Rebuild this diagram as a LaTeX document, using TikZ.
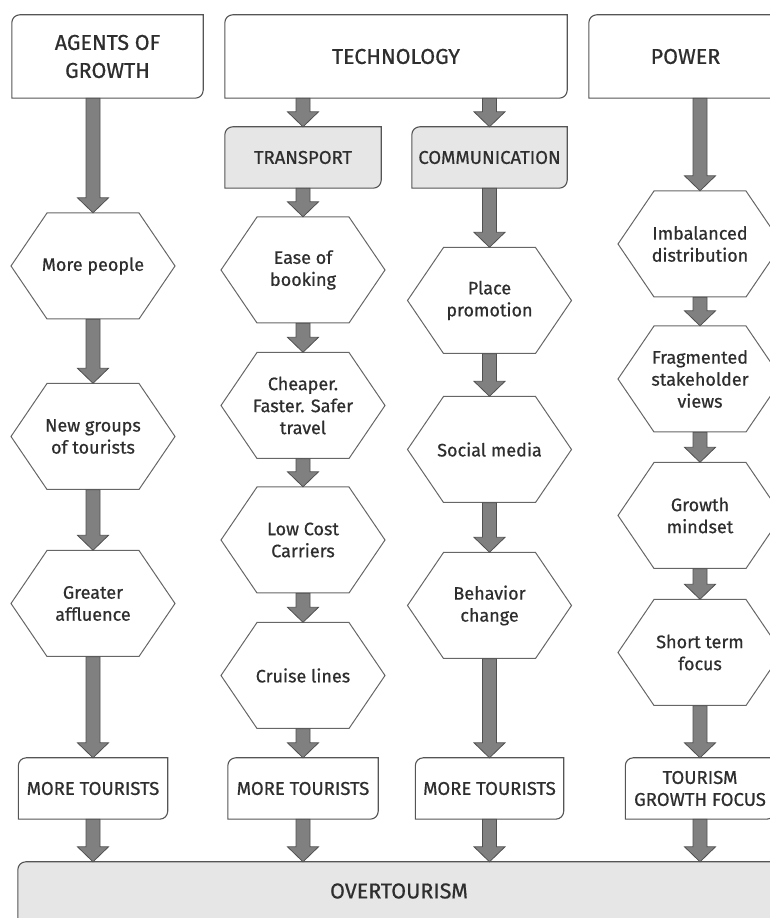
\documentclass[tikz,border=0pt]{standalone}
\usepackage{fontspec}
\setmainfont{Fira Sans}[UprightFeatures={FakeBold=0.7}]
\usetikzlibrary{calc,backgrounds}

\definecolor{textgray}{HTML}{2E2E2E}
\definecolor{linegray}{HTML}{555555}
\definecolor{hexgray}{HTML}{666666}
\definecolor{arrowgray}{HTML}{808080}
\definecolor{arrowline}{HTML}{505050}
\definecolor{shade}{HTML}{E6E6E6}

\tikzset{
  boxtext/.style={rectangle, inner sep=0pt, align=center, text=textgray, font=\fontsize{18.5}{22}\selectfont},
  titletext/.style={boxtext, minimum height=83pt, font=\fontsize{21.5}{28}\selectfont},
  lowtext/.style={boxtext, minimum height=61pt},
  hextext/.style={boxtext, minimum width=164pt, minimum height=106pt, font=\fontsize{18}{22}\selectfont},
  boxline/.style={draw=linegray, line width=1.1pt},
  hexline/.style={draw=hexgray, line width=1pt},
  flowline/.style={draw=arrowline, fill=arrowgray, line width=0.8pt, line join=miter},
}

% box with two rounded corners (top left, bottom right)
\newcommand{\cornerbox}[2]{\draw[boxline, fill=#1] (#2.south west) -- ([yshift=-8pt]#2.north west) arc[start angle=180, end angle=90, radius=8pt] -- (#2.north east) -- ([yshift=8pt]#2.south east) arc[start angle=0, end angle=-90, radius=8pt] -- cycle;}
% hexagon round a node
\newcommand{\hexnode}[1]{\draw[hexline] ([shift={(-46pt,53pt)}]#1.center) -- ([shift={(46pt,53pt)}]#1.center) -- ([shift={(82pt,0pt)}]#1.center) -- ([shift={(46pt,-53pt)}]#1.center) -- ([shift={(-46pt,-53pt)}]#1.center) -- ([shift={(-82pt,0pt)}]#1.center) -- cycle;}
% block arrow, x taken from the end point
\newcommand{\flow}[2]{\draw[flowline] let \p1=(#1), \p2=(#2) in (\x2-7pt,\y1) -- (\x2-7pt,\y2+15pt) -- (\x2-15.5pt,\y2+15pt) -- (\x2,\y2) -- (\x2+15.5pt,\y2+15pt) -- (\x2+7pt,\y2+15pt) -- (\x2+7pt,\y1) -- cycle;}

\begin{document}
\begin{tikzpicture}[x=1pt, y=1pt]
\useasboundingbox (0,0) rectangle (770,918);
\clip (0,0) rectangle (770,918);

\node[titletext, name=agents, minimum width=191pt] at (107.5,861.5) {AGENTS OF\\GROWTH};
\node[titletext, name=tech, minimum width=342pt] at (396,861.5) {TECHNOLOGY};
\node[titletext, name=power, minimum width=193pt] at (685.5,861.5) {POWER};

\node[lowtext, name=transport, minimum width=156pt] at (303,760.5) {TRANSPORT};
\node[lowtext, name=comm, minimum width=155pt] at (489.5,760.5) {COMMUNICATION};

% agents of growth
\node[hextext, name=people] at (93,652) {More people};
\node[hextext, name=groups] at (93,481.5) {New groups\\of tourists};
\node[hextext, name=affluence] at (93,314.5) {Greater\\affluence};

% transport
\node[hextext, name=booking] at (303,648) {Ease of\\booking};
\node[hextext, name=cheaper] at (303,512.5) {Cheaper.\\Faster. Safer\\travel};
\node[hextext, name=carriers] at (303,378) {Low Cost\\Carriers};
\node[hextext, name=cruise] at (303,242.5) {Cruise lines};

% communication
\node[hextext, name=promo] at (489.5,617.5) {Place\\promotion};
\node[hextext, name=social] at (489.5,468.5) {Social media};
\node[hextext, name=behavior] at (489.5,312.5) {Behavior\\change};

% power
\node[hextext, name=imbalance] at (700,674) {Imbalanced\\distribution};
\node[hextext, name=views] at (700,539) {Fragmented\\stakeholder\\views};
\node[hextext, name=mindset] at (700,402.5) {Growth\\mindset};
\node[hextext, name=shortterm] at (700,265.5) {Short term\\focus};

\node[lowtext, name=more1, minimum width=149pt] at (93,129.5) {MORE TOURISTS};
\node[lowtext, name=more2, minimum width=150pt] at (303,129.5) {MORE TOURISTS};
\node[lowtext, name=more3, minimum width=148pt] at (489.5,129.5) {MORE TOURISTS};
\node[lowtext, name=focus, minimum width=149pt] at (700,129.5) {TOURISM\\GROWTH FOCUS};

\node[boxtext, name=over, minimum width=762pt, minimum height=58pt, font=\fontsize{21.5}{26}\selectfont] at (399,27) {OVERTOURISM};

\begin{pgfonlayer}{background}
\clip (0,0) rectangle (770,918);
\foreach \b in {agents, tech, power, more1, more2, more3, focus} \cornerbox{white}{\b};
\foreach \b in {transport, comm, over} \cornerbox{shade}{\b};
\end{pgfonlayer}

\foreach \h in {people, groups, affluence, booking, cheaper, carriers, cruise, promo, social, behavior, imbalance, views, mindset, shortterm} \hexnode{\h};

\flow{agents.south}{people.north}
\flow{people.south}{groups.north}
\flow{groups.south}{affluence.north}
\flow{affluence.south}{more1.north}

\flow{tech.south}{transport.north}
\flow{transport.south}{booking.north}
\flow{booking.south}{cheaper.north}
\flow{cheaper.south}{carriers.north}
\flow{carriers.south}{cruise.north}
\flow{cruise.south}{more2.north}

\flow{tech.south}{comm.north}
\flow{comm.south}{promo.north}
\flow{promo.south}{social.north}
\flow{social.south}{behavior.north}
\flow{behavior.south}{more3.north}

\flow{power.south}{imbalance.north}
\flow{imbalance.south}{views.north}
\flow{views.south}{mindset.north}
\flow{mindset.south}{shortterm.north}
\flow{shortterm.south}{focus.north}

\foreach \m in {more1, more2, more3, focus} \flow{\m.south}{\m.south |- over.north};
\end{tikzpicture}
\end{document}
